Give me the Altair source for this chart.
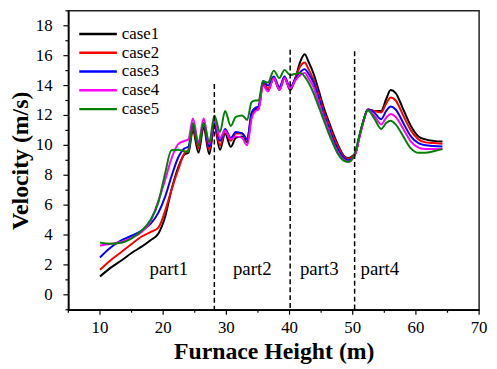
import altair as alt
import pandas as pd

heights = [10.0, 11.5, 13.5, 15.0, 16.6, 18.0, 19.25, 20.3, 21.3, 22.4, 23.4, 24.0,
           24.7, 25.6, 26.4, 27.3, 28.1, 29.0, 29.8, 30.7, 31.5, 32.5, 33.3, 34.0,
           34.6, 35.1, 35.8, 36.6, 37.5, 38.4, 39.2, 40.1, 41.0, 41.7, 42.4, 43.0,
           43.8, 44.6, 45.4, 46.2, 46.9, 47.7, 48.5, 49.3, 50.0, 50.5, 51.0, 51.6,
           52.4, 53.4, 54.5, 55.3, 56.0, 56.8, 58.0, 59.2, 60.4, 61.5, 62.8, 64.2]

case1 = [1.22, 1.75, 2.33, 2.8, 3.22, 3.65, 4.1, 5.2, 7.0, 8.55, 9.4, 9.5,
         11.0, 9.5, 11.2, 9.4, 11.3, 9.7, 10.8, 9.9, 10.5, 10.6, 10.2, 12.0,
         12.4, 12.5, 14.1, 13.7, 14.5, 13.7, 14.5, 13.7, 14.6, 15.6, 16.1, 15.6,
         14.8, 13.7, 12.55, 11.6, 10.8, 10.0, 9.35, 9.15, 9.3, 9.55, 10.5, 11.5,
         12.4, 12.3, 12.3, 13.1, 13.7, 13.5, 12.4, 11.3, 10.6, 10.4, 10.3, 10.25]

case2 = [1.67, 2.25, 2.9, 3.4, 3.9, 4.2, 4.5, 5.6, 7.0, 8.4, 9.5, 9.7,
         11.2, 9.8, 11.4, 9.7, 11.4, 10.0, 11.0, 10.3, 10.8, 10.8, 10.4, 12.1,
         12.5, 12.5, 14.2, 13.8, 14.5, 13.8, 14.5, 13.8, 14.6, 15.3, 15.55, 15.1,
         14.4, 13.4, 12.3, 11.4, 10.6, 9.9, 9.3, 9.1, 9.25, 9.55, 10.5, 11.5,
         12.4, 12.3, 12.2, 12.8, 13.2, 13.0, 12.0, 11.0, 10.4, 10.2, 10.15, 10.1]

case3 = [2.5, 3.1, 3.67, 3.95, 4.3, 4.75, 5.5, 6.55, 7.9, 9.2, 9.8, 9.9,
         11.4, 10.0, 11.5, 9.9, 11.5, 10.3, 11.1, 10.5, 10.9, 10.8, 10.4, 12.2,
         12.5, 12.6, 14.3, 14.0, 14.6, 13.9, 14.6, 13.9, 14.5, 14.9, 15.1, 14.8,
         14.2, 13.2, 12.1, 11.2, 10.4, 9.7, 9.2, 9.0, 9.15, 9.55, 10.5, 11.5,
         12.4, 12.2, 11.75, 12.3, 12.6, 12.4, 11.5, 10.6, 10.15, 10.0, 9.95, 9.93]

case4 = [3.3, 3.4, 3.55, 3.8, 4.2, 4.9, 6.3, 7.67, 9.1, 10.1, 10.3, 10.4,
         11.8, 10.2, 11.8, 10.1, 11.7, 10.5, 11.0, 10.4, 10.6, 10.5, 10.0, 11.8,
         12.3, 12.4, 14.0, 13.6, 14.5, 13.7, 14.5, 13.8, 14.4, 14.7, 14.85, 14.5,
         13.9, 12.9, 11.9, 11.0, 10.2, 9.5, 9.05, 8.9, 9.1, 9.5, 10.4, 11.4,
         12.35, 12.0, 11.4, 11.85, 12.1, 11.9, 11.1, 10.25, 9.85, 9.75, 9.75, 9.75]

case5 = [3.49, 3.42, 3.5, 3.78, 4.3, 5.0, 6.2, 8.1, 9.67, 9.7, 9.6, 9.55,
         11.5, 10.0, 11.5, 10.2, 12.0, 10.9, 12.3, 11.3, 11.9, 12.0, 11.7, 12.9,
         13.0, 13.0, 14.3, 14.2, 15.0, 14.5, 15.05, 14.7, 14.8, 14.85, 14.6, 14.2,
         13.5, 12.6, 11.7, 10.8, 10.1, 9.4, 9.0, 8.9, 9.15, 9.7, 10.6, 11.5,
         12.35, 11.8, 11.1, 11.5, 11.65, 11.4, 10.6, 9.8, 9.5, 9.5, 9.6, 9.75]

case_names = ["case1", "case2", "case3", "case4", "case5"]
case_colors = ["#000000", "#FF0000", "#0000FF", "#FF00FF", "#008000"]

divider_x = [28.1, 40.1, 50.3]
divider_top = [14.1, 16.4, 16.3]

part_names = ["part1", "part2", "part3", "part4"]
part_x = [20.9, 34.1, 44.7, 54.3]
part_y = [1.33, 1.33, 1.33, 1.33]

x_major = [10, 20, 30, 40, 50, 60, 70]
x_labels = ["10", "20", "30", "40", "50", "60", "70"]
x_minor = [5, 15, 25, 35, 45, 55, 65]
y_major = [0, 2, 4, 6, 8, 10, 12, 14, 16, 18]
y_labels = ["0", "2", "4", "6", "8", "10", "12", "14", "16", "18"]
y_minor = [-1, 1, 3, 5, 7, 9, 11, 13, 15, 17, 19]

FONT = "Liberation Serif, Times New Roman, DejaVu Serif, serif"
W, H = 415, 302

series = [case1, case2, case3, case4, case5]
rows = []
for name, vals in zip(case_names, series):
    for h, v in zip(heights, vals):
        rows.append({"h": h, "v": v, "case": name})
df = pd.DataFrame(rows)

xscale = alt.Scale(domain=[5, 70], nice=False, zero=False)
yscale = alt.Scale(domain=[-1, 19], nice=False, zero=False)

xaxis = alt.Axis(values=x_major, labels=False, title="Furnace Height (m)", titlePadding=30)
yaxis = alt.Axis(values=y_major, labels=False, title="Velocity (m/s)", titlePadding=36)

lines = alt.Chart(df).mark_line(interpolate="monotone", strokeWidth=2).encode(
    x=alt.X("h:Q", scale=xscale, axis=xaxis),
    y=alt.Y("v:Q", scale=yscale, axis=yaxis),
    color=alt.Color("case:N", scale=alt.Scale(domain=case_names, range=case_colors), legend=None),
)

# ticks and tick labels drawn through the scales
xmajor = alt.Chart(pd.DataFrame({"h": x_major})).mark_rule(color="black", strokeWidth=1.2).encode(
    x="h:Q", y=alt.value(H), y2=alt.value(H + 5)
)
ymajor = alt.Chart(pd.DataFrame({"v": y_major})).mark_rule(color="black", strokeWidth=1.2).encode(
    y="v:Q", x=alt.value(0), x2=alt.value(-5)
)
xminor = alt.Chart(pd.DataFrame({"h": x_minor})).mark_rule(color="black", strokeWidth=1.2).encode(
    x="h:Q", y=alt.value(H), y2=alt.value(H + 3)
)
yminor = alt.Chart(pd.DataFrame({"v": y_minor})).mark_rule(color="black", strokeWidth=1.2).encode(
    y="v:Q", x=alt.value(0), x2=alt.value(-3)
)
xlab = alt.Chart(pd.DataFrame({"h": x_major, "t": x_labels})).mark_text(
    font=FONT, fontSize=17, color="black", align="center", baseline="alphabetic"
).encode(x="h:Q", y=alt.value(H + 23), text="t:N")
ylab = alt.Chart(pd.DataFrame({"v": y_major, "t": y_labels})).mark_text(
    font=FONT, fontSize=17, color="black", align="right", baseline="middle"
).encode(y="v:Q", x=alt.value(-16), text="t:N")

div_df = pd.DataFrame({"h": divider_x, "v": divider_top, "v2": [-1] * 3})
dividers = alt.Chart(div_df).mark_rule(color="black", strokeWidth=1.5, strokeDash=[5, 3]).encode(
    x="h:Q", y="v:Q", y2="v2:Q"
)

part_df = pd.DataFrame({"h": part_x, "v": part_y, "t": part_names})
parts = alt.Chart(part_df).mark_text(font=FONT, fontSize=19, color="black", baseline="alphabetic").encode(
    x="h:Q", y="v:Q", text="t:N"
)

legend_layers = []
for i, (name, col) in enumerate(zip(case_names, case_colors)):
    yy = 23.3 + 19 * i
    legend_layers.append(
        alt.Chart(pd.DataFrame({"t": [name]})).mark_rule(color=col, strokeWidth=2.5).encode(
            x=alt.value(11), x2=alt.value(49), y=alt.value(yy)
        )
    )
    legend_layers.append(
        alt.Chart(pd.DataFrame({"t": [name]})).mark_text(
            font=FONT, fontSize=17, color="black", align="left", baseline="middle"
        ).encode(x=alt.value(54), y=alt.value(yy), text="t:N")
    )

chart = alt.layer(lines, xmajor, ymajor, xminor, yminor, xlab, ylab, dividers, parts,
                  *legend_layers).properties(
    width=W, height=H,
    padding={"left": 61, "top": 1, "right": 10, "bottom": 58},
    autosize=alt.AutoSizeParams(type="none"),
).configure_view(
    stroke="#222222", strokeWidth=1.5
).configure_axis(
    grid=False, ticks=False, labels=False,
    domainColor="black", domainWidth=1.5,
    titleFont=FONT, titleFontSize=24, titleFontWeight="bold", titleColor="black",
)

chart.save("out.html", embed_options={"renderer": "svg", "actions": False})
